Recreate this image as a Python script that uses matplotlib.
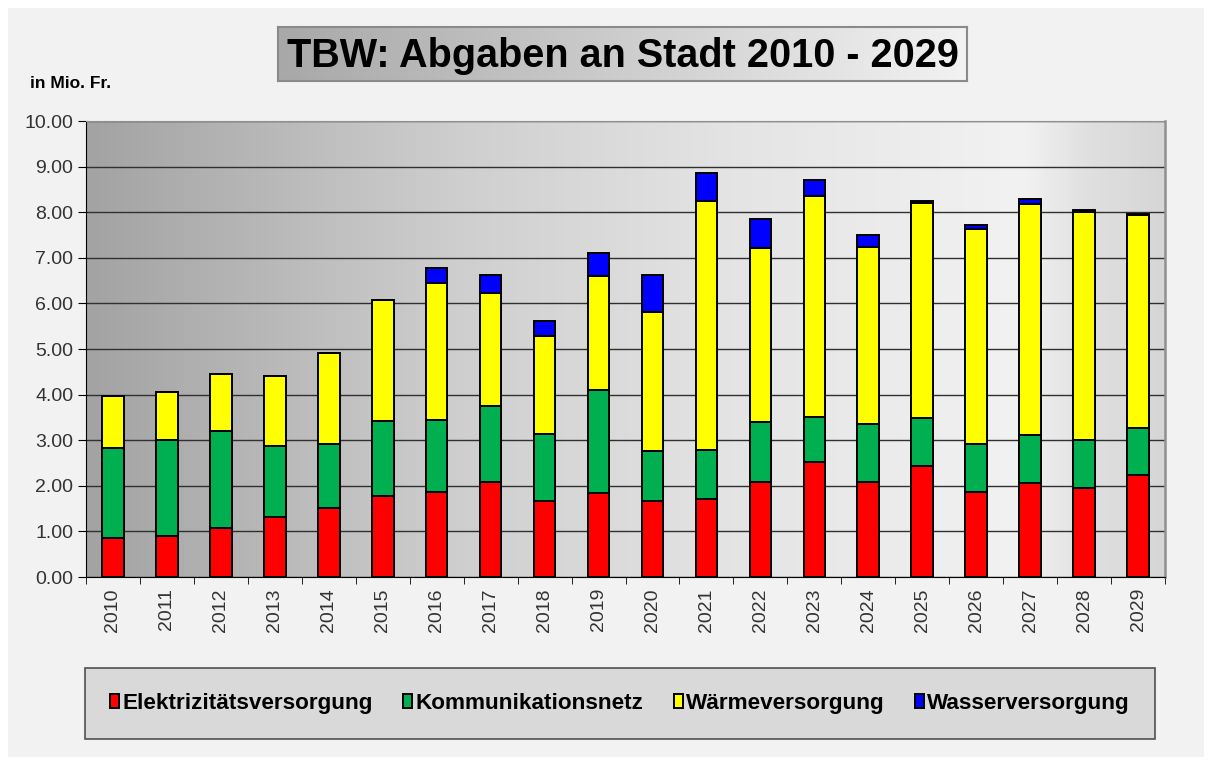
import numpy as np
import matplotlib.pyplot as plt
from matplotlib.patches import Rectangle
from matplotlib.colors import LinearSegmentedColormap

plt.rcParams['font.family'] = ['Liberation Sans', 'DejaVu Sans']

jahre = [str(j) for j in range(2010, 2030)]
# Werte in Mio. Fr.
elektro = [0.85, 0.89, 1.08, 1.31, 1.52, 1.77, 1.87, 2.08, 1.66, 1.84,
           1.66, 1.72, 2.08, 2.53, 2.08, 2.43, 1.86, 2.06, 1.96, 2.24]
komm = [1.98, 2.12, 2.13, 1.56, 1.39, 1.65, 1.58, 1.68, 1.48, 2.25,
        1.10, 1.07, 1.31, 0.97, 1.28, 1.06, 1.06, 1.06, 1.05, 1.02]
waerme = [1.13, 1.05, 1.24, 1.53, 2.01, 2.65, 3.00, 2.46, 2.15, 2.52,
          3.06, 5.45, 3.82, 4.86, 3.87, 4.71, 4.71, 5.07, 5.00, 4.68]
wasser = [0.0, 0.0, 0.0, 0.0, 0.0, 0.0, 0.33, 0.41, 0.33, 0.49,
          0.81, 0.63, 0.65, 0.35, 0.27, 0.05, 0.09, 0.10, 0.03, 0.02]

serien = ["Elektrizitätsversorgung", "Kommunikationsnetz", "Wärmeversorgung", "Wasserversorgung"]
farben = ["#ff0000", "#00b050", "#ffff00", "#0000ff"]

fig = plt.figure(figsize=(12.12, 7.65), dpi=100)
fig.patch.set_facecolor("white")
fig.patches.append(Rectangle((8/1212, 8/765), 1196/1212, 749/765, transform=fig.transFigure,
                             facecolor="#f2f2f2", edgecolor="none", zorder=-10))

ax = fig.add_axes([86/1212, 1-577/765, (1165-86)/1212, (577-121)/765])
ax.set_facecolor("none")

# Hintergrundverlauf
cmap = LinearSegmentedColormap.from_list("bg", [(0, "#a3a3a3"), (0.35, "#cfcfcf"), (0.6, "#e4e4e4"),
                                                (0.87, "#f2f2f2"), (0.93, "#e0e0e0"), (1, "#d6d6d6")])
grad = np.linspace(0, 1, 256).reshape(1, -1)
ax.imshow(grad, aspect="auto", cmap=cmap, extent=(-0.5, 19.5, 0, 10), zorder=0)

x = np.arange(len(jahre))
unten = np.zeros(len(jahre))
for werte, name, farbe in zip([elektro, komm, waerme, wasser], serien, farben):
    werte = np.array(werte)
    ax.bar(x, werte, 0.4, bottom=unten, color=farbe, edgecolor="black", linewidth=1.4,
           label=name, zorder=3)
    unten = unten + werte

ax.set_xlim(-0.5, 19.5)
ax.set_ylim(0, 10)
ax.set_yticks(np.arange(0, 11, 1))
ax.set_yticklabels([f"{v:.2f}" for v in range(0, 11)], fontsize=14, color="#333333")
ax.yaxis.grid(True, color="#303030", linewidth=1.0, zorder=1)
ax.set_axisbelow(True)
ax.set_xticks(x)
ax.set_xticklabels(jahre, rotation=90, fontsize=14, color="#333333")
ax.tick_params(axis="x", length=0, pad=8)
ax.set_xticks(np.arange(-0.5, 20, 1), minor=True)
ax.tick_params(axis="x", which="minor", length=5, color="black")
ax.tick_params(axis="y", length=6, color="black", pad=3)
ax.spines["top"].set_color("#909090")
ax.spines["right"].set_color("#909090")
ax.spines["right"].set_linewidth(1.8)
ax.spines["left"].set_color("black")
ax.spines["bottom"].set_color("black")

# Titel mit Rahmen
tax = fig.add_axes([278/1212, 1-81/765, (967-278)/1212, 54/765])
tax.imshow(grad, aspect="auto", cmap=LinearSegmentedColormap.from_list("t", ["#a8a8a8", "#f2f2f2"]),
           extent=(0, 1, 0, 1))
tax.set_xticks([])
tax.set_yticks([])
for s in tax.spines.values():
    s.set_color("#8a8a8a")
    s.set_linewidth(1.5)
tax.text(0.5, 0.47, "TBW: Abgaben an Stadt 2010 - 2029", ha="center", va="center",
         fontsize=28.5, fontweight="bold", transform=tax.transAxes)

fig.text(30/1212, 1-83/765, "in Mio. Fr.", fontsize=12.5, fontweight="bold", va="center")

# Legende
leg = fig.legend(loc="center", bbox_to_anchor=(620/1212, 1-703.5/765), ncol=4,
                 prop={"weight": "bold", "size": 16.2}, frameon=True, fancybox=False,
                 handlelength=0.4, handleheight=0.55, handletextpad=0.15, columnspacing=1.35,
                 borderpad=1.1)
leg.get_frame().set_facecolor("#d9d9d9")
leg.get_frame().set_edgecolor("#505050")
leg.get_frame().set_linewidth(1.2)
leg.get_frame().set_alpha(1)

fig.savefig("out.png", dpi=100)
